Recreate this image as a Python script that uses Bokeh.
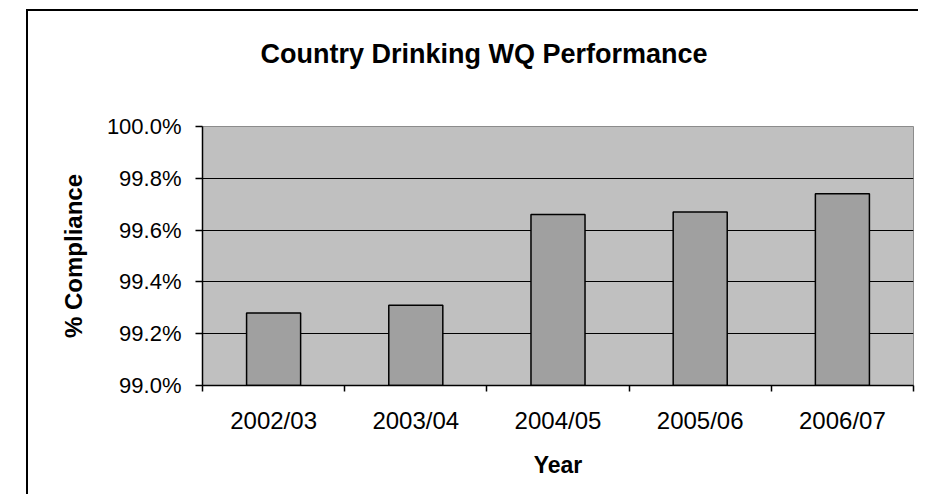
from bokeh.plotting import figure
from bokeh.models import Range1d, FixedTicker, ColumnDataSource, PrintfTickFormatter, Title
from bokeh.embed import file_html
from bokeh.resources import INLINE

# ---- data ----
categories = ["2002/03", "2003/04", "2004/05", "2005/06", "2006/07"]
compliance = [99.28, 99.31, 99.66, 99.67, 99.74]
y_ticks = [99.0, 99.2, 99.4, 99.6, 99.8, 100.0]

title_text = "Country Drinking WQ Performance"
x_title = "Year"
y_title = "% Compliance"

FONT = "Liberation Sans"

n = len(categories)
centers = [i + 0.5 for i in range(n)]
bounds = [i for i in range(n + 1)]

source = ColumnDataSource(data=dict(x=centers, top=compliance, cat=categories))

p = figure(width=892, height=485, title=None,
           x_range=Range1d(0, n), y_range=Range1d(y_ticks[0], y_ticks[-1]),
           output_backend="svg", toolbar_location=None,
           min_border_left=174, min_border_right=7,
           min_border_top=115, min_border_bottom=111)

# outer chart-area border (cropped at right and bottom in the reference)
p.styles = {"margin-left": "26px", "margin-top": "9px",
            "border-left": "2px solid black", "border-top": "2px solid black"}

p.background_fill_color = "#C0C0C0"
p.border_fill_color = "white"
p.outline_line_color = "#8C8C8C"
p.outline_line_width = 1

p.vbar(x="x", top="top", bottom=y_ticks[0], width=0.38, source=source,
       fill_color="#A0A0A0", line_color="black", line_width=1.5)

# title: a blank spacer panel next to the frame, then the real title above it
spacer = Title(text=" ", text_font_size="1px", standoff=50)
p.add_layout(spacer, "above")
main_title = Title(text=title_text, text_font=FONT, text_font_size="27px",
                   text_font_style="bold", text_color="black",
                   align="left", offset=58, standoff=10)
p.add_layout(main_title, "above")

# grid
p.xgrid.visible = False
p.ygrid.ticker = FixedTicker(ticks=y_ticks[1:-1])
p.ygrid.grid_line_color = "black"
p.ygrid.grid_line_width = 1

# y axis
ya = p.yaxis[0]
ya.ticker = FixedTicker(ticks=y_ticks)
ya.formatter = PrintfTickFormatter(format="%.1f%%")
ya.major_tick_out = 7
ya.major_tick_in = 0
ya.minor_tick_line_color = None
ya.axis_line_color = "black"
ya.axis_line_width = 1.5
ya.major_tick_line_color = "black"
ya.major_tick_line_width = 1.5
ya.major_label_text_font = FONT
ya.major_label_text_font_size = "22px"
ya.major_label_text_color = "black"
ya.major_label_standoff = 14
ya.axis_label = y_title
ya.axis_label_text_font = FONT
ya.axis_label_text_font_size = "24px"
ya.axis_label_text_font_style = "bold"
ya.axis_label_text_color = "black"
ya.axis_label_standoff = 17

# x axis
xa = p.xaxis[0]
xa.ticker = FixedTicker(ticks=centers, minor_ticks=bounds)
xa.major_label_overrides = {c: lab for c, lab in zip(centers, categories)}
xa.major_tick_line_color = None
xa.major_tick_out = 0
xa.major_tick_in = 0
xa.minor_tick_line_color = "black"
xa.minor_tick_line_width = 1.5
xa.minor_tick_out = 6
xa.minor_tick_in = 0
xa.axis_line_color = "black"
xa.axis_line_width = 1.5
xa.major_label_text_font = FONT
xa.major_label_text_font_size = "24px"
xa.major_label_text_color = "black"
xa.major_label_standoff = 15
xa.axis_label = x_title
xa.axis_label_text_font = FONT
xa.axis_label_text_font_size = "23px"
xa.axis_label_text_font_style = "bold"
xa.axis_label_text_color = "black"
xa.axis_label_standoff = 15

open("out.html", "w").write(file_html(p, INLINE))
